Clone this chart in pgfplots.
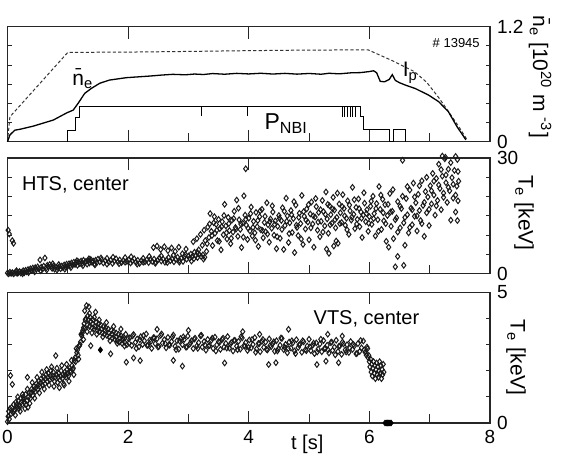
\documentclass[border=0pt]{standalone}
\usepackage{fontspec}
\setmainfont{Liberation Sans}
\usepackage{pgfplots}
\pgfplotsset{compat=1.18}
\usetikzlibrary{calc}
\pgfplotsset{
  panel/.style={
    scale only axis, width=241.25pt, xmin=0, xmax=8, clip=false,
    axis line style={line width=0.6pt, black!85},
    xtick={0,2,4,6,8}, xtick style={draw=none}, xticklabels={},
    ytick pos=both, yticklabel pos=right,
    tick align=inside, major tick length=2.2pt,
    ytick style={line width=0.5pt, black!85},
    tick label style={font=\fontsize{9.5}{11}\selectfont},
    /pgf/number format/assume math mode=true,
  },
  scat/.style={only marks, mark=diamond, mark size=1.4pt,
    mark options={line width=0.5pt, draw=black!90, fill=none}},
}
\newcommand{\xticksdraw}{%
  \pgfplotsinvokeforeach{0.25,0.5,0.75}{%
    \draw[line width=0.5pt,black!85] (rel axis cs:##1,0) -- ++(0pt,6pt);
    \draw[line width=0.5pt,black!85] (rel axis cs:##1,1) -- ++(0pt,-6pt);}%
  \pgfplotsinvokeforeach{0.125,0.375,0.625,0.875}{%
    \draw[line width=0.5pt,black!85] (rel axis cs:##1,0) -- ++(0pt,4.5pt);}%
}
\begin{document}
\fontsize{10}{12}\selectfont
\begin{tikzpicture}
\path[use as bounding box] (0pt,0pt) rectangle (282pt,-227pt);

% ---------------- Panel 1 ----------------
\begin{axis}[panel, at={(3.75pt,-13.35pt)}, anchor=north west, height=57.5pt,
  ymin=0, ymax=1.2, ytick={0,0.2,0.4,0.6,0.8,1.0,1.2}, yticklabels={0,,,,,,1.2}]
\xticksdraw
% P_NBI
\addplot[line width=0.5pt, black] coordinates {
(1.00,0)(1.00,0.122)(1.13,0.122)(1.13,0.254)(1.20,0.254)(1.20,0.372)
(3.22,0.372)(3.22,0.27)(3.22,0.372)(3.98,0.372)(3.98,0.27)(3.98,0.372)
(5.55,0.372)(5.55,0.26)(5.55,0.372)(5.58,0.372)(5.58,0.26)(5.58,0.372)
(5.64,0.372)(5.64,0.26)(5.64,0.372)(5.69,0.372)(5.69,0.26)(5.69,0.372)
(5.72,0.372)(5.72,0.26)(5.72,0.372)(5.77,0.372)(5.77,0.26)(5.77,0.372)
(5.85,0.372)(5.85,0.26)(5.90,0.26)(5.90,0.125)(6.33,0.125)(6.33,0)
(6.40,0)(6.40,0.125)(6.60,0.125)(6.60,0)};
% I_p
\addplot[line width=0.5pt, black!80, dash pattern=on 1.6pt off 1.1pt] coordinates {
(0.00,0.00)(0.04,0.26)(1.00,0.932)(2.00,0.935)(3.00,0.942)(4.00,0.950)(5.00,0.956)
(5.98,0.958)(6.40,0.84)(6.75,0.73)(6.95,0.62)(7.15,0.46)(7.35,0.28)(7.50,0.14)(7.62,0.02)};
% n_e
\addplot[line width=0.65pt, black] coordinates {
(0.00,0.00)(0.04,0.07)(0.12,0.12)(0.21,0.13)(0.43,0.163)(0.76,0.226)(0.98,0.30)
(1.09,0.33)(1.17,0.40)(1.28,0.504)(1.39,0.556)(1.53,0.61)(1.69,0.643)(1.97,0.668)
(2.20,0.678)(2.36,0.685)(2.55,0.695)(2.74,0.703)(2.95,0.698)(3.10,0.706)(3.25,0.701)(3.40,0.711)
(3.60,0.704)(3.80,0.713)(4.00,0.707)(4.20,0.714)(4.40,0.706)(4.60,0.713)(4.80,0.705)
(5.00,0.712)(5.20,0.704)(5.33,0.714)(5.50,0.708)(5.70,0.719)(5.85,0.721)(5.99,0.731)
(6.07,0.740)(6.12,0.720)(6.18,0.630)(6.25,0.625)(6.33,0.650)(6.38,0.700)(6.43,0.640)
(6.50,0.615)(6.60,0.590)(6.76,0.555)(6.98,0.487)(7.15,0.417)(7.31,0.313)(7.45,0.160)(7.60,0.02)};
\node[font=\fontsize{10.5}{12}\selectfont] at (axis cs:1.25,0.66) {\={n}\textsubscript{e}};
\node[font=\fontsize{10.5}{12}\selectfont] at (axis cs:6.68,0.72) {I\textsubscript{p}};
\node[font=\fontsize{11.5}{13}\selectfont] at (axis cs:4.62,0.19) {P\textsubscript{NBI}};
\node[font=\fontsize{6.5}{8}\selectfont] at (axis cs:7.44,1.03) {\# 13945};
\node[rotate=-90, font=\fontsize{10.5}{12}\selectfont] at ($(rel axis cs:1,0.5)+(25pt,3.75pt)$)
  {\={n}\textsubscript{e} [10\textsuperscript{20} m \textsuperscript{-3}]};
\end{axis}

% ---------------- Panel 2 ----------------
\begin{axis}[panel, at={(3.75pt,-79.0pt)}, anchor=north west, height=57.9pt,
  ymin=0, ymax=30, ytick={0,5,10,15,20,25,30}, yticklabels={0,,,,,,30}]
\xticksdraw
\addplot[scat] coordinates {
(0.01,11.3)(0.03,10.3)(0.08,8.6)(0.10,7.9)
(0.00,0.2)(0.02,0.0)(0.04,0.4)(0.06,0.1)(0.08,0.3)(0.10,0.0)(0.12,0.2)(0.14,0.5)(0.16,0.1)(0.18,0.3)
(0.20,0.6)(0.22,0.2)(0.24,0.4)(0.26,0.8)(0.28,0.3)(0.30,0.9)(0.32,0.5)(0.34,1.1)(0.36,0.7)(0.38,1.3)
(0.40,0.9)(0.42,1.5)(0.44,1.0)(0.46,1.6)(0.48,1.2)(0.50,1.8)(0.52,1.3)(0.54,3.6)(0.56,1.7)(0.58,1.2)
(0.60,2.0)(0.62,4.1)(0.64,1.5)(0.66,2.2)(0.68,1.8)(0.70,2.4)(0.72,1.9)(0.74,1.4)(0.76,2.0)(0.78,1.2)
(0.80,1.7)(0.82,1.0)(0.84,1.5)(0.86,1.9)(0.88,1.3)(0.90,2.0)(0.92,1.6)(0.94,2.3)(0.96,1.8)(0.98,2.5)
(1.00,2.0)(1.02,2.6)(1.04,2.1)(1.06,2.8)(1.08,2.3)(1.10,3.0)(1.12,2.4)(1.14,2.9)(1.16,2.2)(1.18,3.1)
(1.20,2.6)(1.22,3.3)(1.24,2.7)(1.26,3.5)(1.28,2.9)(1.30,3.2)(1.32,2.5)(1.34,3.4)(1.36,2.8)(1.38,3.7)
(1.40,3.0)(1.42,3.3)(1.44,2.6)(1.46,3.5)(1.48,2.9)(1.50,3.8)(1.53,3.1)(1.56,3.6)(1.59,2.8)(1.62,3.4)
(1.65,4.0)(1.68,3.0)(1.71,3.5)(1.74,2.7)(1.77,3.3)(1.80,3.9)(1.83,3.1)(1.86,3.6)(1.89,2.9)(1.92,3.4)
(1.95,4.2)(1.98,3.2)(2.01,3.6)(2.04,2.8)(2.07,3.3)(2.10,3.9)(2.13,3.0)(2.16,3.5)(2.19,2.7)(2.22,3.4)
(2.25,4.0)(2.28,3.1)(2.31,3.6)(2.34,2.9)(2.37,3.7)(2.40,3.2)(2.42,6.8)(2.43,3.8)(2.46,3.0)(2.48,7.2)
(2.49,3.5)(2.52,4.1)(2.54,6.3)(2.55,3.3)(2.58,3.8)(2.60,7.0)(2.61,3.0)(2.64,3.6)(2.66,6.0)(2.67,4.2)
(2.70,3.4)(2.72,6.7)(2.73,3.9)(2.76,3.1)(2.78,5.8)(2.79,3.7)(2.82,4.3)(2.84,6.9)(2.85,3.5)(2.88,4.0)
(2.90,5.2)(2.91,3.2)(2.94,4.5)(2.96,6.4)(2.97,3.8)(3.00,4.6)(3.02,4.0)(3.04,5.1)(3.06,4.4)(3.08,8.3)
(3.09,3.9)(3.10,5.6)(3.12,4.7)(3.14,9.1)(3.15,4.2)(3.17,6.2)(3.18,5.0)(3.20,10.2)(3.21,4.5)(3.23,7.4)
(3.24,4.9)(3.26,11.3)(3.27,4.3)(3.28,8.6)(3.30,5.8)
(0.15,0.8)(0.25,0.0)(0.35,0.3)(0.45,0.5)(0.55,0.8)(0.65,1.0)(0.75,2.6)(0.85,2.4)(0.95,1.2)(1.05,1.6)
(1.15,3.4)(1.25,2.1)(1.35,3.9)(1.45,2.3)(1.55,4.1)(1.65,2.5)(1.75,4.3)(1.85,2.6)(1.95,3.0)(2.05,4.4)
(2.15,2.5)(2.25,3.0)(2.35,4.5)(2.45,2.7)(2.55,4.6)(2.65,2.9)(2.75,4.8)(2.85,3.0)(2.95,5.0)(3.05,3.3)
(3.15,5.5)(3.25,3.8)
(3.32,12.1)(3.34,9.4)(3.36,15.6)(3.38,11.0)(3.40,7.3)(3.42,13.2)(3.44,10.5)(3.46,12.8)(3.48,8.6)(3.50,14.1)
(3.52,11.7)(3.54,6.2)(3.56,13.5)(3.58,10.1)(3.60,18.0)(3.62,12.4)(3.64,9.0)(3.66,14.6)(3.68,11.2)(3.70,7.8)
(3.72,13.9)(3.74,10.8)(3.76,16.2)(3.78,12.0)(3.80,19.1)(3.82,9.7)(3.84,14.0)(3.86,11.5)(3.88,6.8)(3.90,13.1)
(3.92,20.2)(3.94,15.2)(3.95,27.2)(3.96,12.6)(3.98,8.9)(4.00,14.4)(4.02,11.1)(4.04,17.3)(4.06,9.8)(4.08,13.6)
(4.10,10.6)(4.12,15.9)(4.14,12.2)(4.16,7.1)(4.18,14.8)(4.20,11.4)(4.22,16.7)(4.24,9.3)(4.26,13.3)(4.28,10.9)
(4.30,18.4)(4.32,12.7)(4.34,8.2)(4.36,14.2)(4.38,11.8)(4.40,16.0)(4.42,10.0)(4.44,13.7)(4.46,6.5)(4.48,12.3)
(4.50,15.1)(4.52,9.2)(4.54,13.8)(4.56,17.1)(4.58,6.3)(4.60,12.5)(4.62,19.6)(4.64,15.0)(4.66,8.1)(4.68,13.2)
(4.70,16.4)(4.72,10.7)(4.74,14.3)(4.76,5.5)(4.78,17.8)(4.80,12.0)(4.82,9.9)(4.84,15.7)(4.86,13.0)(4.88,20.3)
(4.90,7.6)(4.92,14.9)(4.94,11.6)(4.96,16.8)(4.98,13.4)(5.00,8.8)(5.02,15.5)(5.04,18.6)(5.06,12.9)(5.08,6.9)
(5.10,14.7)(5.12,17.4)(5.14,11.3)(5.16,15.9)(5.18,9.6)(5.20,13.6)(5.22,19.0)(5.24,16.1)(5.26,12.4)(5.28,21.2)
(5.29,6.4)(5.30,14.2)(5.32,10.5)(5.33,5.3)(5.34,17.6)(5.36,15.3)(5.38,13.1)(5.40,19.8)(5.41,7.2)(5.42,16.5)
(5.44,11.9)(5.45,8.5)(5.46,14.6)(5.48,7.9)(5.50,18.1)(5.52,15.8)(5.54,13.3)(5.56,20.5)(5.58,16.9)(5.60,12.6)
(5.62,14.4)(5.64,18.9)(5.66,10.2)(5.68,16.3)(5.70,13.9)(5.72,22.4)(5.74,15.4)(5.76,11.7)(5.78,17.2)(5.80,14.1)
(5.82,19.4)(5.84,12.2)(5.86,16.0)(5.88,9.4)(5.90,15.2)(5.92,18.3)(5.94,13.5)(5.96,16.6)(5.98,11.0)(6.00,14.8)
(6.02,17.5)(6.04,12.8)(6.06,20.1)(6.08,15.6)(6.10,9.8)(6.12,18.2)(6.14,14.0)(6.16,22.6)(6.18,16.7)(6.20,11.5)
(6.22,19.3)(6.24,13.7)(6.26,17.9)(6.28,8.4)(6.30,15.1)(6.32,6.9)(6.34,20.8)(6.36,12.3)(6.38,16.2)(6.40,9.1)
(6.43,1.8)(6.47,4.5)(6.45,14.5)(6.47,18.7)(6.55,29.4)(6.51,11.9)(6.53,16.9)(6.57,2.2)(6.57,13.2)(6.59,7.4)
(6.61,19.5)(6.63,15.3)(6.65,10.6)(6.67,21.7)(6.69,17.0)(6.71,12.7)(6.73,23.5)(6.75,14.9)(6.77,18.4)(6.79,11.1)
(6.81,20.6)(6.83,16.4)(6.85,13.8)(6.87,24.1)(6.89,17.7)(6.91,9.7)(6.93,21.3)(6.95,15.8)(6.97,19.9)(6.99,12.5)
(7.01,22.8)(7.03,18.1)(7.05,26.0)(7.07,20.4)(7.09,15.2)(7.11,24.7)(7.13,19.0)(7.15,28.4)(7.17,22.1)(7.19,16.6)
(7.21,30.5)(7.21,25.3)(7.23,20.9)(7.25,29.8)(7.26,30.2)(7.27,23.6)(7.29,18.5)(7.31,27.1)(7.33,21.5)(7.35,13.9)
(7.37,24.9)(7.39,19.6)(7.41,26.8)(7.43,30.4)(7.43,16.0)(7.45,22.7)(7.46,29.6)(7.47,18.9)(7.48,24.0)(7.46,13.8)
(3.31,7.8)(3.35,12.9)(3.39,9.9)(3.43,14.8)(3.47,11.3)(3.51,8.4)(3.55,12.2)(3.59,15.1)(3.63,10.6)(3.67,13.0)
(3.71,9.2)(3.75,14.3)(3.79,11.6)(3.83,17.0)(3.87,12.9)(3.91,9.5)(3.95,14.1)(3.99,11.8)(4.03,15.6)(4.07,12.0)
(4.11,8.7)(4.15,13.8)(4.19,16.3)(4.23,11.2)(4.27,14.9)(4.31,10.3)(4.35,13.5)(4.39,17.6)(4.43,12.8)(4.47,9.6)
(4.51,14.4)(4.55,11.5)(4.59,16.2)(4.63,13.6)(4.67,10.4)(4.71,15.3)(4.75,18.7)(4.79,12.6)(4.83,14.6)(4.87,9.0)
(4.91,16.1)(4.95,13.9)(4.99,17.9)(5.03,11.9)(5.07,15.0)(5.11,19.5)(5.15,13.4)(5.19,16.6)(5.23,10.8)(5.27,15.4)
(5.31,18.0)(5.35,12.7)(5.39,16.8)(5.43,14.0)(5.47,20.9)(5.51,13.0)(5.55,17.4)(5.59,15.0)(5.63,11.4)(5.67,17.8)
(5.71,14.7)(5.75,19.2)(5.79,12.9)(5.83,16.9)(5.87,14.4)(5.91,21.0)(5.95,15.6)(5.99,13.1)(6.03,18.8)(6.07,14.3)
(6.11,16.9)(6.15,11.0)(6.19,20.4)(6.23,15.8)(6.27,13.0)(6.31,18.0)(6.35,16.0)(6.39,21.8)(6.43,14.0)(6.47,10.8)
(6.51,17.5)(6.55,20.1)(6.59,14.6)(6.63,22.6)(6.67,12.0)(6.71,16.6)(6.75,19.9)(6.79,15.0)(6.83,22.8)(6.87,13.0)
(6.91,18.5)(6.95,25.0)(6.99,16.7)(7.03,21.5)(7.07,24.0)(7.11,17.6)(7.15,23.0)(7.19,27.0)(7.23,19.8)(7.27,25.6)
(7.31,22.4)(7.35,28.8)(7.39,23.2)(7.43,20.4)(7.47,26.5)};
\node[anchor=west, inner sep=0pt, font=\fontsize{10}{12}\selectfont] at (axis cs:0.235,23.0) {HTS, center};
\node[rotate=-90, font=\fontsize{10.5}{12}\selectfont] at ($(rel axis cs:1,0.5)+(17pt,1.5pt)$)
  {T\textsubscript{e} [keV]};
\end{axis}

% ---------------- Panel 3 ----------------
\begin{axis}[panel, at={(3.75pt,-146.25pt)}, anchor=north west, height=65.25pt,
  ymin=0, ymax=5, ytick={0,1,2,3,4,5}, yticklabels={0,,,,,5},
  xticklabels={0,2,4,6,8}]
\xticksdraw
\addplot[scat] coordinates {
(0.00,0.05)(0.01,0.25)(0.02,0.45)(0.03,0.15)(0.04,0.55)(0.05,1.82)(0.06,0.35)(0.07,0.6)(0.08,1.48)(0.09,0.4)
(0.10,0.7)(0.12,0.5)(0.14,0.8)(0.16,0.6)(0.18,0.85)(0.20,0.65)(0.22,0.95)(0.24,0.7)(0.26,1.0)(0.28,0.8)
(0.30,1.1)(0.32,0.85)(0.34,0.6)(0.36,1.15)(0.38,0.95)(0.40,1.3)(0.42,1.05)(0.44,1.4)(0.46,1.2)(0.48,1.5)
(0.50,1.3)(0.52,1.6)(0.54,1.4)(0.56,1.7)(0.58,1.45)(0.60,1.75)(0.62,1.5)(0.64,1.85)(0.66,1.6)(0.68,1.9)
(0.70,1.65)(0.72,2.0)(0.74,1.7)(0.76,1.95)(0.78,1.6)(0.80,2.58)(0.81,1.85)(0.83,1.55)(0.85,1.9)(0.87,1.65)
(0.89,2.0)(0.91,1.7)(0.93,1.5)(0.95,1.95)(0.97,1.75)(0.99,2.05)(1.01,1.8)(1.03,2.1)(1.05,1.95)(1.07,2.2)
(1.09,2.1)(1.11,2.4)(1.13,2.35)(1.15,2.7)(1.17,2.6)(1.19,2.95)(1.21,3.1)(1.23,3.35)(1.25,3.55)(1.27,3.8)
(1.28,4.3)(1.29,3.65)(1.30,4.0)(1.31,4.5)(1.32,3.75)(1.34,3.95)(1.35,4.45)(1.36,3.7)(1.38,2.96)(1.38,3.9)
(1.40,3.65)(1.42,3.95)(1.44,3.6)(1.46,4.25)(1.47,3.85)(1.49,3.55)(1.51,3.8)(1.53,3.5)(1.55,3.75)
(1.57,3.45)(1.59,3.7)(1.61,3.4)(1.63,3.65)(1.65,3.35)(1.67,3.6)(1.69,3.3)(1.71,2.65)(1.72,3.55)(1.74,3.25)
(1.76,3.5)(1.78,3.2)(1.80,3.45)(1.82,3.15)(1.84,3.4)(1.86,3.1)(1.88,3.35)(1.90,3.05)(1.92,3.3)(1.94,3.1)
(1.96,3.4)(1.97,2.33)(1.98,3.0)(2.00,3.25)
(0.11,0.45)(0.15,0.7)(0.19,0.55)(0.23,0.8)(0.27,0.9)(0.31,0.7)(0.33,1.75)(0.35,1.0)(0.39,1.15)(0.43,1.25)
(0.47,1.35)(0.51,1.45)(0.55,1.55)(0.59,1.6)(0.63,1.7)(0.67,1.75)(0.71,1.8)(0.75,1.8)(0.79,1.75)(0.84,1.75)
(0.88,1.8)(0.92,1.85)(0.96,1.85)(1.00,1.9)(1.04,2.0)(1.08,2.05)(1.12,2.5)(1.16,2.8)(1.20,3.0)(1.24,3.45)
(1.26,3.65)(1.33,4.1)(1.37,4.05)(1.41,3.8)(1.45,3.7)(1.50,3.65)(1.56,3.6)(1.62,3.55)(1.68,3.45)(1.74,3.4)
(1.80,3.3)(1.86,3.25)(1.92,3.2)(2.09,2.49)(2.20,2.39)
(0.13,0.3)(0.17,1.0)(0.21,0.45)(0.25,1.1)(0.29,0.55)(0.33,1.3)(0.37,0.75)(0.41,1.55)(0.45,0.95)(0.49,1.75)
(0.53,1.15)(0.57,1.95)(0.61,1.3)(0.65,2.05)(0.69,1.45)(0.73,2.15)(0.77,1.4)(0.82,2.1)(0.86,1.35)(0.90,2.2)
(0.94,1.45)(0.98,2.25)(1.02,1.6)(1.06,2.4)(1.10,1.85)(1.14,2.85)(1.18,2.45)(1.22,3.4)(1.26,3.2)(1.29,3.95)
(1.32,3.5)(1.36,4.2)(1.40,3.45)(1.44,4.05)(1.48,3.4)(1.52,3.95)(1.58,3.3)(1.64,3.85)(1.70,3.15)(1.76,3.7)
(1.82,3.05)(1.88,3.6)(1.94,2.95)
(2.03,3.27)(2.06,2.97)(2.09,3.39)(2.12,3.09)(2.15,3.22)(2.18,2.92)(2.21,3.31)(2.24,3.01)(2.27,3.15)(2.30,3.41)
(2.33,2.98)(2.36,3.18)(2.39,2.86)(2.42,3.27)(2.45,3.04)(2.48,3.23)(2.51,2.93)(2.54,3.36)(2.57,3.06)(2.60,3.19)
(2.63,2.88)(2.66,3.28)(2.69,2.98)(2.72,3.12)(2.75,3.37)(2.78,2.94)(2.81,3.15)(2.84,2.83)(2.87,3.24)(2.90,3.00)
(2.93,3.20)(2.96,2.90)(2.99,3.33)(3.02,3.02)(3.05,3.15)(3.08,2.85)(3.11,3.25)(3.14,2.95)(3.17,3.08)(3.20,3.34)
(3.23,2.91)(3.26,3.12)(3.29,2.79)(3.32,3.20)(3.35,2.97)(3.38,3.17)(3.41,2.86)(3.44,3.29)(3.47,2.99)(3.50,3.12)
(3.53,2.82)(3.56,3.21)(3.59,2.91)(3.62,3.05)(3.65,3.31)(3.68,2.87)(3.71,3.08)(3.74,2.76)(3.77,3.17)(3.80,2.94)
(3.83,3.13)(3.86,2.83)(3.89,3.26)(3.92,2.96)(3.95,3.08)(3.98,2.78)(4.01,3.18)(4.04,2.88)(4.07,3.01)(4.10,3.27)
(4.13,2.84)(4.16,3.05)(4.19,2.73)(4.22,3.13)(4.25,2.90)(4.28,3.10)(4.31,2.80)(4.34,3.22)(4.37,2.92)(4.40,3.05)
(4.43,2.75)(4.46,3.15)(4.49,2.84)(4.52,2.98)(4.55,3.24)(4.58,2.81)(4.61,3.01)(4.64,2.69)(4.67,3.10)(4.70,2.87)
(4.73,3.07)(4.76,2.76)(4.79,3.19)(4.82,2.89)(4.85,3.02)(4.88,2.71)(4.91,3.11)(4.94,2.81)(4.97,2.95)(5.00,3.21)
(5.03,2.77)(5.06,2.98)(5.09,2.66)(5.12,3.07)(5.15,2.83)(5.18,3.03)(5.21,2.73)(5.24,3.16)(5.27,2.86)(5.30,2.98)
(5.33,2.68)(5.36,3.08)(5.39,2.78)(5.42,2.91)(5.45,3.17)(5.48,2.74)(5.51,2.95)(5.54,2.63)(5.57,3.03)(5.60,2.80)
(5.63,3.00)(5.66,2.70)(5.69,3.12)(5.72,2.82)(5.75,2.95)(5.78,2.65)(5.81,3.04)(5.84,2.74)(5.87,2.88)(5.90,3.14)
(5.93,2.71)(5.96,2.91)(5.99,2.59)
(2.015,3.05)(2.075,3.34)(2.135,2.86)(2.195,3.19)(2.255,3.35)(2.315,2.97)(2.375,3.12)(2.435,3.26)(2.495,2.91)(2.555,3.41)
(2.615,3.04)(2.675,3.00)(2.735,3.30)(2.795,2.81)(2.855,3.14)(2.915,3.30)(2.975,2.92)(3.035,3.07)(3.095,3.21)(3.155,2.86)
(3.215,3.36)(3.275,2.99)(3.335,2.95)(3.395,3.25)(3.455,2.76)(3.515,3.09)(3.575,3.25)(3.635,2.87)(3.695,3.02)(3.755,3.16)
(3.815,2.81)(3.875,3.31)(3.935,2.94)(3.995,2.90)(4.055,3.20)(4.115,2.71)(4.175,3.04)(4.235,3.20)(4.295,2.82)(4.355,2.97)
(4.415,3.11)(4.475,2.76)(4.535,3.26)(4.595,2.90)(4.655,2.85)(4.715,3.15)(4.775,2.66)(4.835,2.99)(4.895,3.15)(4.955,2.77)
(5.015,2.92)(5.075,3.06)(5.135,2.72)(5.195,3.21)(5.255,2.85)(5.315,2.80)(5.375,3.10)(5.435,2.61)(5.495,2.94)(5.555,3.10)
(5.615,2.72)(5.675,2.87)(5.735,3.01)(5.795,2.67)(5.855,3.16)(5.915,2.80)
(2.48,3.59)(2.90,2.18)(2.75,2.40)(3.00,3.55)(3.60,2.30)(3.90,3.50)(4.18,3.40)(4.33,2.24)(4.45,2.31)(4.66,3.59)
(5.13,2.24)(5.28,2.37)(5.31,3.40)(5.49,2.31)(5.55,3.33)
(5.95,2.60)(5.97,2.85)(5.98,2.50)(6.00,2.35)(6.01,2.15)(6.02,2.45)(6.03,1.95)(6.04,2.25)(6.05,1.80)(6.06,2.10)
(6.07,2.35)(6.08,1.90)(6.09,2.20)(6.10,1.70)(6.11,2.05)(6.12,2.30)(6.13,1.85)(6.14,2.15)(6.15,1.75)(6.16,2.00)
(6.17,2.35)(6.18,1.90)(6.19,2.20)(6.20,1.70)(6.21,2.05)(6.22,1.85)(6.23,2.25)(6.24,1.95)};
\addplot[only marks, mark=diamond*, mark size=1.4pt, mark options={line width=0.4pt, draw=black, fill=black}]
  coordinates {(1.54,2.80)(6.26,0)(6.28,0)(6.30,0)(6.32,0)(6.34,0)(6.36,0)};
\node[anchor=west, inner sep=0pt, font=\fontsize{10}{12}\selectfont] at (axis cs:5.07,4.0) {VTS, center};
\node[anchor=north, font=\fontsize{10}{12}\selectfont] at ($(axis cs:4.97,0)+(0pt,-2.5pt)$) {t [s]};
\node[rotate=-90, font=\fontsize{10.5}{12}\selectfont] at ($(rel axis cs:1,0.5)+(13pt,0pt)$)
  {T\textsubscript{e} [keV]};
\end{axis}
\end{tikzpicture}
\end{document}
